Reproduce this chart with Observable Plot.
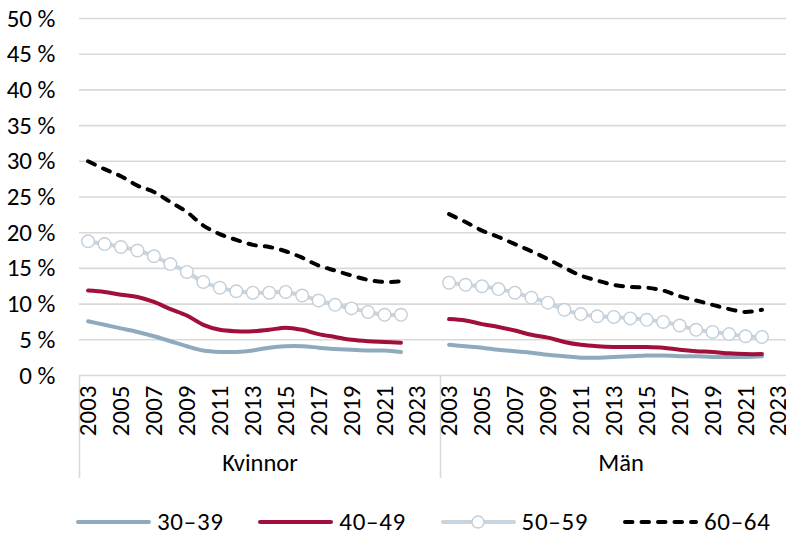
<!DOCTYPE html>
<html>
<head>
<meta charset="utf-8">
<script src="https://cdn.jsdelivr.net/npm/d3@7"></script>
<script src="https://cdn.jsdelivr.net/npm/@observablehq/plot@0.6"></script>
<style>
  html, body { margin: 0; padding: 0; background: #fff; overflow: hidden; }
  body { width: 786px; height: 537px; font-family: Carlito, Calibri, Lato, "Open Sans", sans-serif; }
  #legend { display: flex; height: 30px; margin-top: 7px; align-items: center; padding-left: 76px; font-size: 25px; letter-spacing: 0.7px; line-height: 30px; color: #000; }
  .item { display: flex; align-items: center; width: 182.3px; height: 30px; flex: none; }
  .item svg { flex: none; margin-right: 6px; }
</style>
</head>
<body>
<div id="chart"></div>
<div id="legend"></div>
<script>
const years = [2003,2004,2005,2006,2007,2008,2009,2010,2011,2012,2013,2014,2015,2016,2017,2018,2019,2020,2021,2022];
const genders = ["Kvinnor", "Män"];
const groups = ["30–39", "40–49", "50–59", "60–64"];
const xTicks = [2003,2005,2007,2009,2011,2013,2015,2017,2019,2021,2023];
const yTicks = [0,5,10,15,20,25,30,35,40,45,50];

const kvinnor3039 = [7.6,7.1,6.6,6.1,5.5,4.8,4.1,3.5,3.3,3.3,3.5,3.9,4.1,4.1,3.9,3.7,3.6,3.5,3.5,3.3];
const kvinnor4049 = [11.9,11.7,11.3,11.0,10.3,9.3,8.4,7.1,6.4,6.2,6.2,6.4,6.7,6.4,5.8,5.4,5.0,4.8,4.7,4.6];
const kvinnor5059 = [18.8,18.4,18.0,17.5,16.7,15.6,14.5,13.1,12.3,11.8,11.6,11.6,11.7,11.2,10.5,9.9,9.4,8.9,8.5,8.5];
const kvinnor6064 = [30.0,28.9,27.9,26.6,25.7,24.3,22.9,21.0,19.8,19.0,18.3,18.0,17.4,16.5,15.4,14.7,14.0,13.4,13.1,13.2];

const man3039 = [4.3,4.1,3.9,3.6,3.4,3.2,2.9,2.7,2.5,2.5,2.6,2.7,2.8,2.8,2.7,2.7,2.6,2.6,2.6,2.7];
const man4049 = [7.9,7.7,7.2,6.8,6.3,5.7,5.3,4.7,4.3,4.1,4.0,4.0,4.0,3.9,3.6,3.4,3.3,3.1,3.0,3.0];
const man5059 = [13.0,12.7,12.5,12.1,11.6,10.9,10.2,9.2,8.6,8.3,8.2,8.0,7.8,7.5,7.0,6.4,6.1,5.8,5.5,5.4];
const man6064 = [22.6,21.5,20.3,19.4,18.4,17.4,16.3,15.1,14.0,13.3,12.7,12.4,12.3,11.9,11.1,10.5,9.9,9.3,8.9,9.2];

const colors = {"30–39": "#8FAABC", "40–49": "#A0103A", "50–59": "#C8D4DE", "60–64": "#000000"};
const markerStroke = "#C2CFDA";
const dash = "7.5 9";

const seriesTable = [
  ["Kvinnor", "30–39", kvinnor3039], ["Kvinnor", "40–49", kvinnor4049],
  ["Kvinnor", "50–59", kvinnor5059], ["Kvinnor", "60–64", kvinnor6064],
  ["Män", "30–39", man3039], ["Män", "40–49", man4049],
  ["Män", "50–59", man5059], ["Män", "60–64", man6064]
];
const data = seriesTable.flatMap(([kon, grupp, vals]) =>
  years.map((year, i) => ({kon, grupp, year, value: vals[i]})));
const of = g => data.filter(d => d.grupp === g);

const font = "Carlito, Calibri, Lato, 'Open Sans', sans-serif";

const chart = Plot.plot({
  width: 786,
  height: 500,
  marginLeft: 78.5,
  marginRight: -15.5,
  marginTop: 18,
  marginBottom: 125,
  style: {fontFamily: font, fontSize: "25px", color: "#000", background: "#fff"},
  fx: {domain: genders, padding: 0, paddingOuter: 0},
  x: {domain: [2002.48, 2024.4]},
  y: {domain: [0, 50]},
  marks: [
    Plot.gridY(yTicks, {stroke: "#D9D9D9", strokeOpacity: 1, strokeWidth: 1.6}),
    Plot.ruleX([2002.48], {stroke: "#D9D9D9", strokeWidth: 1.6, insetTop: 357, insetBottom: -103}),
    Plot.line(of("30–39"), {x: "year", y: "value", fx: "kon", stroke: colors["30–39"], strokeWidth: 4, curve: "catmull-rom"}),
    Plot.line(of("40–49"), {x: "year", y: "value", fx: "kon", stroke: colors["40–49"], strokeWidth: 4, curve: "catmull-rom"}),
    Plot.line(of("50–59"), {x: "year", y: "value", fx: "kon", stroke: colors["50–59"], strokeWidth: 4, curve: "catmull-rom"}),
    Plot.dot(of("50–59"), {x: "year", y: "value", fx: "kon", r: 6.3, fill: "white", stroke: markerStroke, strokeWidth: 1.4}),
    Plot.line(of("60–64"), {x: "year", y: "value", fx: "kon", stroke: colors["60–64"], strokeWidth: 4, strokeDasharray: dash, strokeLinecap: "round", curve: "catmull-rom"}),
    Plot.axisY(yTicks, {tickSize: 0, tickPadding: 24, tickFormat: d => d + " %", fontSize: 25, label: null}),
    Plot.axisX(xTicks, {tickSize: 0, tickPadding: 10, tickRotate: -90, tickFormat: d => String(d), fontSize: 25, label: null}),
    Plot.axisFx({anchor: "bottom", tickSize: 0, tickPadding: 78, fontSize: 24.5, label: null})
  ]
});
document.getElementById("chart").appendChild(chart);

// Legend
const legend = d3.select("#legend");
for (const g of groups) {
  const item = legend.append("div").attr("class", "item");
  const sw = item.append("svg").attr("width", 75).attr("height", 16);
  const line = sw.append("line").attr("x1", 2).attr("x2", 73).attr("y1", 8).attr("y2", 8)
    .attr("stroke", colors[g]).attr("stroke-width", 4);
  if (g === "60–64") line.attr("stroke-dasharray", dash).attr("stroke-linecap", "round");
  else line.attr("stroke-linecap", "round");
  if (g === "50–59") sw.append("circle").attr("cx", 37).attr("cy", 8).attr("r", 6)
    .attr("fill", "white").attr("stroke", markerStroke).attr("stroke-width", 1.4);
  item.append("span").text(g);
}
</script>
</body>
</html>
